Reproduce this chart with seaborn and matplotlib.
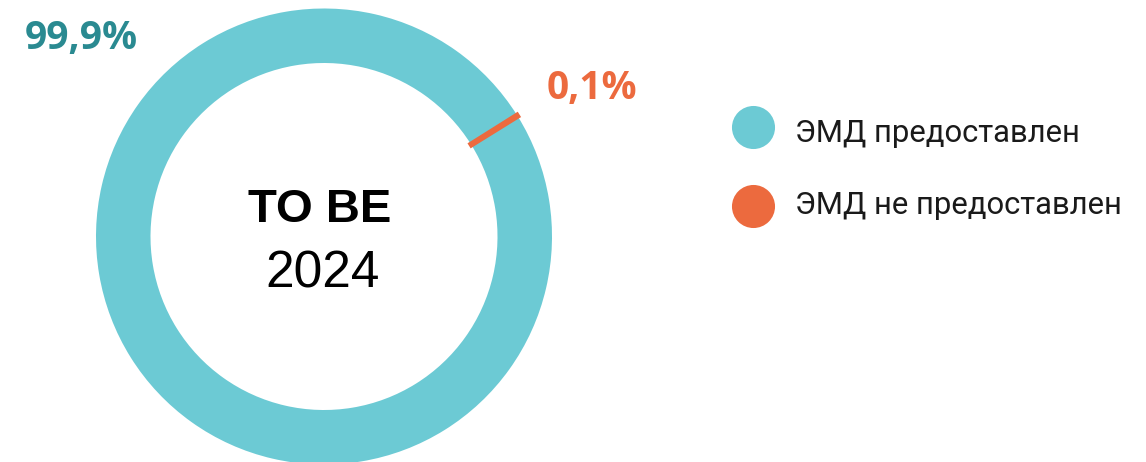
import numpy as np
import matplotlib.pyplot as plt
import seaborn as sns

# data
labels = ['ЭМД предоставлен', 'ЭМД не предоставлен']
shares = [99.9, 0.1]
share_text = ['99,9%', '0,1%']
colors = ['#6ccad4', '#ec6a3e']
label_colors = ['#2a8a91', '#ec6a3e']

sns.set_theme(style='white')
plt.rcParams['font.family'] = ['Roboto', 'DejaVu Sans']

W, H = 1146, 462
fig = plt.figure(figsize=(W / 100, H / 100), dpi=100)
ax = fig.add_axes([0, 0, 1, 1])
ax.set_xlim(0, W)
ax.set_ylim(0, H)
ax.set_aspect('equal')
ax.axis('off')

cx, cy = 324, H - 236.5
R, ring = 228, 54.5

wedges, _ = ax.pie(shares, colors=colors, center=(cx, cy), radius=R,
                   startangle=32.18, counterclock=True,
                   wedgeprops=dict(width=ring, linewidth=0))
# the tiny slice is widened with an edge so it stays visible
wedges[1].set_edgecolor(colors[1])
wedges[1].set_linewidth(3.5)
ax.set_xlim(0, W)
ax.set_ylim(0, H)

# center text
center_font = ['Liberation Sans', 'DejaVu Sans']
ax.text(cx - 4, H - 210, 'TO BE', ha='center', va='center', fontsize=34,
        fontweight='bold', color='black', family=center_font)
ax.text(cx - 1, H - 274, '2024', ha='center', va='center', fontsize=37,
        color='black', family=center_font)

# percentage labels
pct_font = ['Open Sans', 'DejaVu Sans']
ax.text(81, H - 38, share_text[0], ha='center', va='center', fontsize=28,
        fontweight='bold', color=label_colors[0], family=pct_font)
ax.text(592, H - 88, share_text[1], ha='center', va='center', fontsize=28,
        fontweight='bold', color=label_colors[1], family=pct_font)

# legend
marker_y = [127, 206]
text_y = [134, 205]
for i, lab in enumerate(labels):
    ax.scatter([752.5], [H - marker_y[i]], s=43 ** 2 * 0.52, color=colors[i], linewidths=0)
    ax.text(795, H - text_y[i], lab, ha='left', va='center', fontsize=22.3,
            color='#1a1a1a')

fig.savefig('out.png', dpi=100)
